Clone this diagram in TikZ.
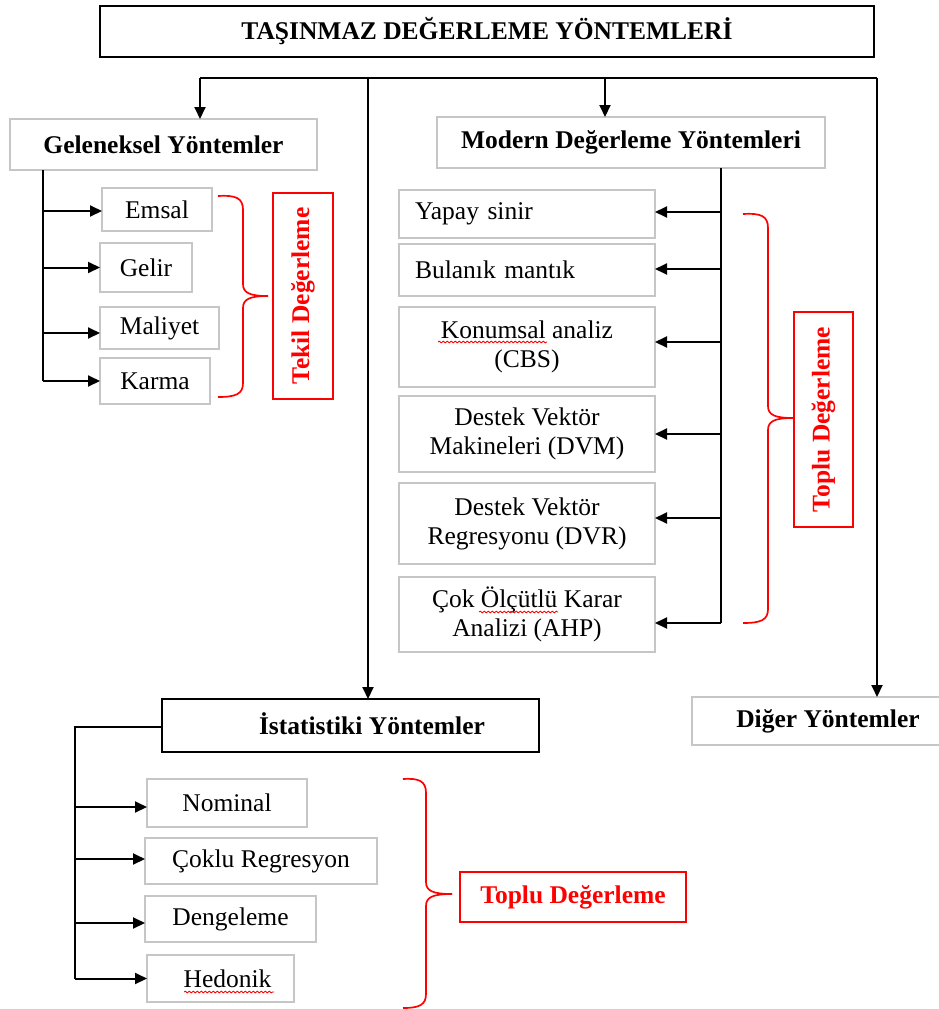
\documentclass[tikz,border=0pt]{standalone}
\usepackage{fontspec}
\setmainfont{Liberation Serif}
\usetikzlibrary{arrows.meta,decorations.pathmorphing}
\begin{document}
\begin{tikzpicture}[x=1pt,y=-1pt,
  every node/.style={font=\fontsize{25.5}{29}\selectfont, inner sep=0pt, outer sep=0pt},
  bx/.style 2 args={minimum width=#1, minimum height=#2},
  gbox/.style={draw=gray!45, line width=1.6pt, rectangle, align=center},
  kbox/.style={draw=black, line width=2.2pt, rectangle},
  hdr/.style={font=\fontsize{25.5}{29}\selectfont\bfseries},
  rbox/.style={draw=red, line width=1.7pt, rectangle, text=red, font=\fontsize{25.5}{29}\selectfont\bfseries},
  conn/.style={line width=2pt, black},
  arr/.style={conn, -{Triangle[length=12pt,width=11pt]}},
  brc/.style={red, line width=1.7pt},
  wavy/.style={red, line width=0.8pt, decorate, decoration={snake, amplitude=0.9pt, segment length=4pt}},
]
\useasboundingbox[fill=white] (0,0) rectangle (939,1009);

% title
\node[kbox, hdr, bx={774}{51}] (title) at (487,31.5) {TAŞINMAZ DEĞERLEME YÖNTEMLERİ};

% main groups
\node[gbox, hdr, bx={307}{51}] (gel) at (163.5,144.5) {Geleneksel Yöntemler};
\node[gbox, hdr, bx={388}{51}] (mod) at (631,142.5) {Modern Değerleme Yöntemleri};
\node[kbox, bx={377}{53}] (ist) at (350.5,725.5) {};
\node[hdr] (istt) at (372,724) {İstatistiki Yöntemler};
\node[gbox, hdr, bx={272}{48}] (dig) at (828,721) {Diğer Yöntemler};

% bus
\coordinate (b1) at (200,78);
\coordinate (b2) at (368,78);
\coordinate (b3) at (605,78);
\coordinate (b4) at (877,78);
\draw[conn] (b1) -- (b4);
\draw[arr] (b1) -- (b1 |- gel.north);
\draw[arr] (b2) -- (b2 |- ist.north);
\draw[arr] (b3) -- (b3 |- mod.north);
\draw[arr] (b4) -- (b4 |- dig.north);

% traditional methods
\node[gbox, bx={110}{43}] (emsal) at (157,209.5) {Emsal};
\node[gbox, bx={92}{49}] (gelir) at (146,267.5) {Gelir};
\node[gbox, bx={119}{42}] (maliyet) at (159.5,328) {Maliyet};
\node[gbox, bx={110}{46}] (karma) at (155,381) {Karma};
\coordinate (gt) at (43,170);
\draw[conn] (gt) -- (gt |- karma.west);
\draw[arr] (gt |- 0,211) -- (emsal.west |- 0,211);
\draw[arr] (gt |- gelir.west) -- (gelir.west);
\draw[arr] (gt |- 0,333) -- (maliyet.west |- 0,333);
\draw[arr] (gt |- karma.west) -- (karma.west);

\draw[brc] (218,196) .. controls (236,195) and (243,198) .. (243,210) -- (243,284)
  .. controls (243,293) and (250,296) .. (268,296);
\draw[brc] (268,296) .. controls (250,296) and (243,299) .. (243,308) -- (243,383)
  .. controls (243,394) and (236,397) .. (218,397);
\node[rbox, rotate=90, bx={206}{60}] (tekil) at (303,296) {Tekil Değerleme};

% modern methods
\node[gbox, bx={256}{48}, text width=224, align=left] (yapay) at (527,214) {Yapay sinir};
\node[gbox, bx={256}{52}, text width=224, align=left] (bulanik) at (527,270) {Bulanık mantık};
\node[gbox, bx={256}{80}] (konum) at (527,347) {Konumsal analiz\\(CBS)};
\node[gbox, bx={256}{76}] (dvm) at (527,434) {Destek Vektör\\Makineleri (DVM)};
\node[gbox, bx={256}{81}] (dvr) at (527,523.5) {Destek Vektör\\Regresyonu (DVR)};
\node[gbox, bx={256}{75}] (ahp) at (527,614.5) {Çok Ölçütlü Karar\\Analizi (AHP)};
\coordinate (mt) at (721,168);
\draw[conn] (mt) -- (mt |- 0,623);
\draw[arr] (mt |- 0,212) -- (yapay.east |- 0,212);
\draw[arr] (mt |- 0,269) -- (bulanik.east |- 0,269);
\draw[arr] (mt |- 0,342) -- (konum.east |- 0,342);
\draw[arr] (mt |- dvm.east) -- (dvm.east);
\draw[arr] (mt |- 0,518) -- (dvr.east |- 0,518);
\draw[arr] (mt |- 0,623) -- (ahp.east |- 0,623);
\draw[wavy] (438,342) -- (547,342);
\draw[wavy] (479,612) -- (558,612);

\draw[brc] (743,214) .. controls (761,213) and (768,216) .. (768,228) -- (768,406)
  .. controls (768,415) and (775,418) .. (793,418);
\draw[brc] (793,418) .. controls (775,418) and (768,421) .. (768,430) -- (768,609)
  .. controls (768,620) and (761,623) .. (743,623);
\node[rbox, rotate=90, bx={215}{59}] (toplu1) at (823.5,419.5) {Toplu Değerleme};

% statistical methods
\node[gbox, bx={160}{48}] (nominal) at (227,803) {Nominal};
\node[gbox, bx={232}{46}] (coklu) at (261,861) {Çoklu Regresyon};
\node[gbox, bx={171}{46}] (deng) at (230.5,919) {Dengeleme};
\node[gbox, bx={147}{47}] (hedonik) at (220.5,978.5) {\hspace*{14pt}Hedonik};
\coordinate (st) at (74.5,727);
\draw[conn] (ist.west |- st) -- (st) -- (st |- hedonik.west);
\draw[arr] (st |- 0,807) -- (nominal.west |- 0,807);
\draw[arr] (st |- 0,859) -- (coklu.west |- 0,859);
\draw[arr] (st |- 0,923) -- (deng.west |- 0,923);
\draw[arr] (st |- hedonik.west) -- (hedonik.west);
\draw[wavy] (184,992) -- (274,992);

\draw[brc] (403,779) .. controls (419,778) and (426,781) .. (426,793) -- (426,882)
  .. controls (426,891) and (433,894) .. (452,894);
\draw[brc] (452,894) .. controls (433,894) and (426,897) .. (426,906) -- (426,994)
  .. controls (426,1005) and (419,1008) .. (403,1008);
\node[rbox, bx={226}{50}] (toplu2) at (573,897) {Toplu Değerleme};
\end{tikzpicture}
\end{document}
